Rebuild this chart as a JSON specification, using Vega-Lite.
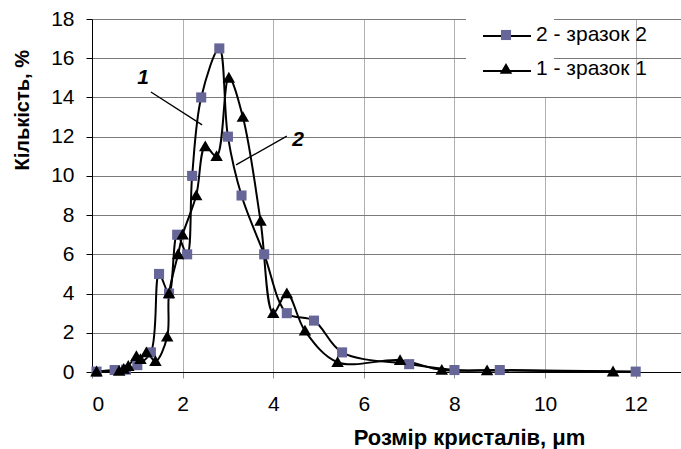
{
  "$schema": "https://vega.github.io/schema/vega-lite/v6.json",
  "width": 589,
  "height": 353,
  "autosize": {"type": "none"},
  "padding": {"left": 92, "top": 19, "right": 0, "bottom": 77},
  "background": "white",
  "config": {
    "font": "Liberation Sans",
    "view": {"stroke": null},
    "axis": {"labelFont": "Liberation Sans", "titleFont": "Liberation Sans", "labelColor": "#000000", "titleColor": "#000000"}
  },
  "datasets": {
    "pts": [
      {"series": "2 - зразок 2", "x": 0.1, "y": 0.02},
      {"series": "2 - зразок 2", "x": 0.5, "y": 0.1},
      {"series": "2 - зразок 2", "x": 0.75, "y": 0.12},
      {"series": "2 - зразок 2", "x": 1.0, "y": 0.35},
      {"series": "2 - зразок 2", "x": 1.3, "y": 1.0},
      {"series": "2 - зразок 2", "x": 1.48, "y": 5.0},
      {"series": "2 - зразок 2", "x": 1.7, "y": 4.0},
      {"series": "2 - зразок 2", "x": 1.88, "y": 7.0},
      {"series": "2 - зразок 2", "x": 2.1, "y": 6.0},
      {"series": "2 - зразок 2", "x": 2.21, "y": 10.0},
      {"series": "2 - зразок 2", "x": 2.41, "y": 14.0},
      {"series": "2 - зразок 2", "x": 2.81, "y": 16.5},
      {"series": "2 - зразок 2", "x": 3.0, "y": 12.0},
      {"series": "2 - зразок 2", "x": 3.3, "y": 9.0},
      {"series": "2 - зразок 2", "x": 3.8, "y": 6.0},
      {"series": "2 - зразок 2", "x": 4.3, "y": 3.0},
      {"series": "2 - зразок 2", "x": 4.9, "y": 2.62},
      {"series": "2 - зразок 2", "x": 5.52, "y": 1.0},
      {"series": "2 - зразок 2", "x": 7.0, "y": 0.4},
      {"series": "2 - зразок 2", "x": 8.0, "y": 0.1},
      {"series": "2 - зразок 2", "x": 9.0, "y": 0.1},
      {"series": "2 - зразок 2", "x": 12.0, "y": 0.02},
      {"series": "1 - зразок 1", "x": 0.1, "y": 0.02},
      {"series": "1 - зразок 1", "x": 0.6, "y": 0.05},
      {"series": "1 - зразок 1", "x": 0.7, "y": 0.15},
      {"series": "1 - зразок 1", "x": 0.8, "y": 0.3},
      {"series": "1 - зразок 1", "x": 0.98, "y": 0.8},
      {"series": "1 - зразок 1", "x": 1.07, "y": 0.65},
      {"series": "1 - зразок 1", "x": 1.2, "y": 1.0},
      {"series": "1 - зразок 1", "x": 1.4, "y": 0.55},
      {"series": "1 - зразок 1", "x": 1.66, "y": 1.8},
      {"series": "1 - зразок 1", "x": 1.7, "y": 4.0},
      {"series": "1 - зразок 1", "x": 1.9, "y": 6.0},
      {"series": "1 - зразок 1", "x": 2.0, "y": 7.0},
      {"series": "1 - зразок 1", "x": 2.3, "y": 9.0},
      {"series": "1 - зразок 1", "x": 2.5, "y": 11.5},
      {"series": "1 - зразок 1", "x": 2.75, "y": 11.0},
      {"series": "1 - зразок 1", "x": 3.02, "y": 15.0},
      {"series": "1 - зразок 1", "x": 3.33, "y": 13.0},
      {"series": "1 - зразок 1", "x": 3.72, "y": 7.7},
      {"series": "1 - зразок 1", "x": 4.0, "y": 3.0},
      {"series": "1 - зразок 1", "x": 4.3, "y": 4.0},
      {"series": "1 - зразок 1", "x": 4.7, "y": 2.1},
      {"series": "1 - зразок 1", "x": 5.42, "y": 0.5},
      {"series": "1 - зразок 1", "x": 6.8, "y": 0.6},
      {"series": "1 - зразок 1", "x": 7.72, "y": 0.1},
      {"series": "1 - зразок 1", "x": 8.72, "y": 0.08},
      {"series": "1 - зразок 1", "x": 11.5, "y": 0.02}
    ],
    "leaders": [
      {"x": 1.3, "y": 14.28, "xe": 2.43, "ye": 12.6},
      {"x": 4.3, "y": 12.03, "xe": 3.18, "ye": 10.56}
    ],
    "tags": [
      {"x": 1.13, "y": 15.0, "t": "1"},
      {"x": 4.55, "y": 11.83, "t": "2"}
    ]
  },
  "encoding": {
    "x": {"field": "x", "type": "quantitative", "title": "Розмір кристалів, μm",
      "scale": {"domain": [0, 13], "nice": false},
      "axis": {"values": [0, 2, 4, 6, 8, 10, 12], "grid": true, "gridColor": "#b0b0b0", "gridOpacity": 1,
        "domainColor": "#000000", "tickColor": "#909090", "tickSize": 6, "labelFontSize": 21, "labelPadding": 15,
        "titleFontSize": 22, "titleFontWeight": "bold", "titleX": 377, "titleY": 65, "titleBaseline": "middle", "titleAlign": "center"}},
    "y": {"field": "y", "type": "quantitative", "title": "Кількість, %",
      "scale": {"domain": [0, 18], "nice": false},
      "axis": {"values": [0, 2, 4, 6, 8, 10, 12, 14, 16, 18], "grid": true, "gridColor": "#7a7a7a", "gridOpacity": 1,
        "domainColor": "#000000", "tickColor": "#000000", "tickSize": 6, "labelFontSize": 21, "labelPadding": 12,
        "titleFontSize": 20, "titleFontWeight": "bold", "titleX": -70, "titleY": 151, "titleBaseline": "middle", "titleAlign": "left", "titleAngle": 270}}
  },
  "layer": [
    {
      "data": {"name": "pts"},
      "mark": {"type": "line", "interpolate": "catmull-rom", "strokeWidth": 2},
      "encoding": {
        "stroke": {"field": "series", "type": "nominal", "sort": ["2 - зразок 2", "1 - зразок 1"],
          "scale": {"range": ["#000000", "#000000"]},
          "legend": {"title": null, "orient": "none", "legendX": 374, "legendY": -24, "padding": 16, "fillColor": "white", "zindex": 1,
            "symbolType": "stroke", "symbolSize": 2304, "symbolStrokeWidth": 2, "symbolStrokeColor": "#000000",
            "labelExpr": "'                    '",
            "labelFontSize": 21, "labelFont": "Liberation Sans", "labelColor": "#000000", "labelOffset": 6, "rowPadding": -2}}
      }
    },
    {
      "data": {"name": "pts"},
      "mark": {"type": "point", "filled": true, "opacity": 1, "size": 2304, "strokeWidth": 0},
      "encoding": {
        "color": {"field": "series", "type": "nominal",
          "scale": {"domain": ["2 - зразок 2", "1 - зразок 1"], "range": ["#666699", "#000000"]},
          "legend": {"title": null, "orient": "none", "legendX": 374, "legendY": -24, "padding": 16, "zindex": 2,
            "symbolSize": 2304, "symbolStrokeWidth": 0, "symbolOpacity": 1,
            "labelFontSize": 21, "labelFont": "Liberation Sans", "labelColor": "#000000", "labelOffset": 6, "rowPadding": -2}},
        "shape": {"field": "series", "type": "nominal",
          "scale": {"domain": ["2 - зразок 2", "1 - зразок 1"], "range": ["M-0.21,-0.21H0.21V0.21H-0.21Z", "M0,-0.25L0.26,0.2H-0.26Z"]},
          "legend": {"title": null, "orient": "none", "legendX": 374, "legendY": -24, "padding": 16, "zindex": 2,
            "symbolSize": 2304, "symbolStrokeWidth": 0, "symbolOpacity": 1,
            "labelFontSize": 21, "labelFont": "Liberation Sans", "labelColor": "#000000", "labelOffset": 6, "rowPadding": -2}}
      }
    },
    {
      "data": {"name": "leaders"},
      "mark": {"type": "rule", "color": "#000000", "strokeWidth": 1.3},
      "encoding": {
        "x2": {"field": "xe"},
        "y2": {"field": "ye"}
      }
    },
    {
      "data": {"name": "tags"},
      "mark": {"type": "text", "font": "Liberation Sans", "fontSize": 21, "fontWeight": "bold", "fontStyle": "italic", "color": "#000000"},
      "encoding": {
        "text": {"field": "t"}
      }
    }
  ]
}
